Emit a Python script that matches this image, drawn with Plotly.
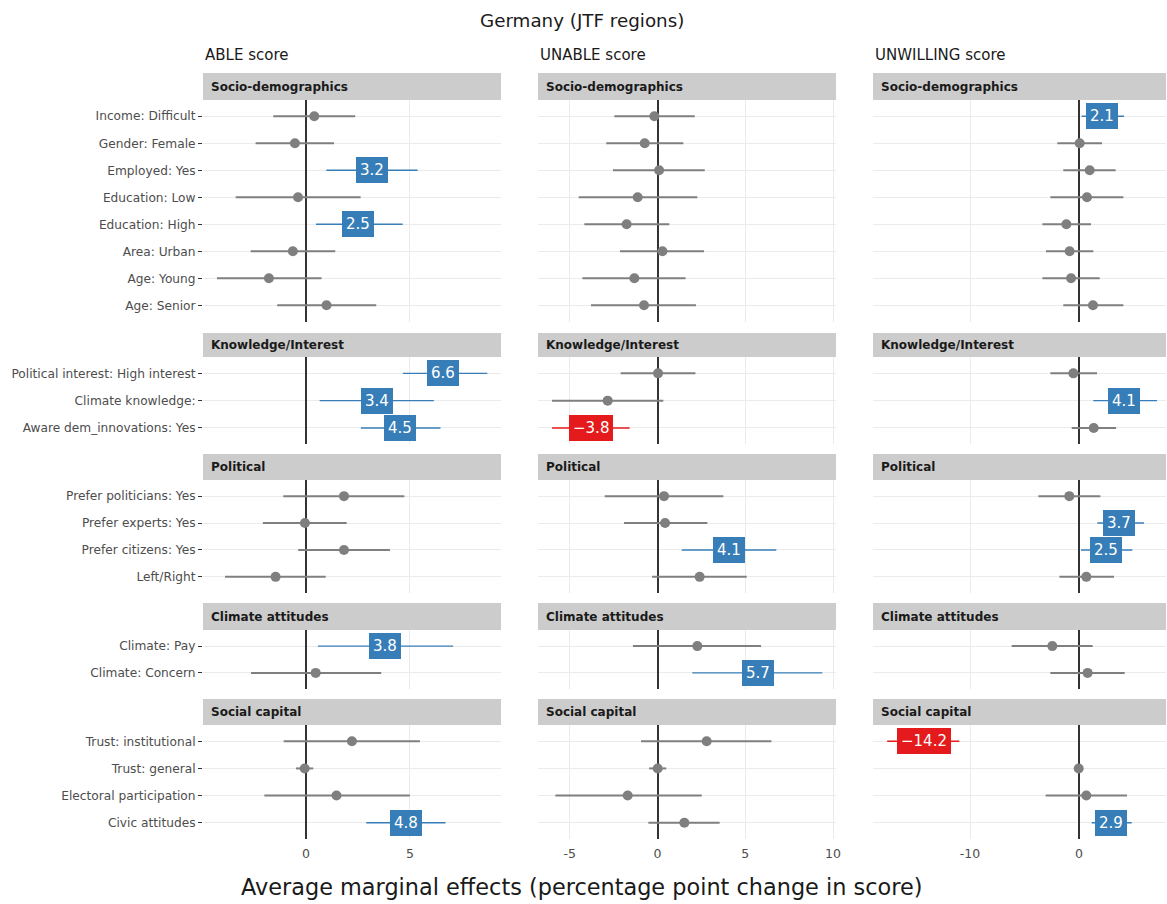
import plotly.graph_objects as go

# ---------------- data ----------------
score_titles = ["ABLE score", "UNABLE score", "UNWILLING score"]
groups = ["Socio-demographics", "Knowledge/Interest", "Political", "Climate attitudes", "Social capital"]

vars_socio = ["Income: Difficult", "Gender: Female", "Employed: Yes", "Education: Low",
              "Education: High", "Area: Urban", "Age: Young", "Age: Senior"]
vars_know = ["Political interest: High interest", "Climate knowledge:", "Aware dem_innovations: Yes"]
vars_pol = ["Prefer politicians: Yes", "Prefer experts: Yes", "Prefer citizens: Yes", "Left/Right"]
vars_clim = ["Climate: Pay", "Climate: Concern"]
vars_soc = ["Trust: institutional", "Trust: general", "Electoral participation", "Civic attitudes"]
group_vars = [vars_socio, vars_know, vars_pol, vars_clim, vars_soc]

able_est = [0.40, -0.53, 3.2, -0.38, 2.5, -0.63, -1.78, 0.99,
            6.6, 3.4, 4.5,
            1.83, -0.05, 1.83, -1.46,
            3.8, 0.47,
            2.21, -0.06, 1.47, 4.8]
able_lo = [-1.57, -2.42, 0.98, -3.38, 0.48, -2.66, -4.28, -1.38,
           4.66, 0.66, 2.64,
           -1.09, -2.07, -0.37, -3.89,
           0.58, -2.64,
           -1.07, -0.48, -2.0, 2.9]
able_hi = [2.37, 1.35, 5.37, 2.63, 4.65, 1.41, 0.75, 3.38,
           8.72, 6.15, 6.47,
           4.73, 1.96, 4.04, 0.95,
           7.08, 3.62,
           5.48, 0.35, 5.0, 6.71]

unable_est = [-0.18, -0.73, 0.09, -1.13, -1.76, 0.28, -1.32, -0.77,
              0.03, -2.84, -3.8,
              0.37, 0.43, 4.1, 2.4,
              2.27, 5.7,
              2.8, 0.01, -1.7, 1.53]
unable_lo = [-2.46, -2.92, -2.54, -4.49, -4.17, -2.14, -4.28, -3.79,
             -2.1, -6.01, -6.01,
             -3.01, -1.91, 1.38, -0.31,
             -1.4, 1.98,
             -0.94, -0.48, -5.82, -0.52]
unable_hi = [2.12, 1.47, 2.69, 2.27, 0.67, 2.65, 1.6, 2.19,
             2.16, 0.33, -1.59,
             3.75, 2.84, 6.77, 5.08,
             5.9, 9.39,
             6.49, 0.5, 2.52, 3.54]

unwilling_est = [2.1, 0.06, 0.98, 0.73, -1.16, -0.86, -0.73, 1.28,
                 -0.52, 4.1, 1.35,
                 -0.89, 3.7, 2.5, 0.67,
                 -2.45, 0.79,
                 -14.2, -0.03, 0.67, 2.9]
unwilling_lo = [0.24, -1.99, -1.44, -2.63, -3.36, -3.03, -3.36, -1.44,
                -2.63, 1.31, -0.67,
                -3.73, 1.68, 0.18, -1.8,
                -6.18, -2.63,
                -17.6, -0.2, -3.06, 1.16]
unwilling_hi = [4.13, 2.11, 3.36, 4.07, 1.1, 1.31, 1.9, 4.07,
                1.65, 7.16, 3.4,
                1.96, 5.96, 4.89, 3.21,
                1.25, 4.19,
                -10.98, 0.2, 4.4, 4.83]

scores = [(able_est, able_lo, able_hi),
          (unable_est, unable_lo, unable_hi),
          (unwilling_est, unwilling_lo, unwilling_hi)]

x_ranges = [[-4.95, 9.38], [-6.81, 10.17], [-18.9, 7.98]]
x_ticks = [[0, 5], [-5, 0, 5, 10], [-10, 0]]

# ---------------- layout geometry (pixels) ----------------
W, H = 1167, 904
col_px = [(203, 501), (538, 836), (873, 1166)]
strip_px = [(73, 100), (333, 357), (454, 480), (603, 630), (699, 725)]
panel_px = [(100, 321.5), (357, 444.3), (480, 593), (630, 689), (725, 839)]

FONT = "DejaVu Sans"
GREY = "#7f7f7f"
BLUE = "#377EB8"
RED = "#E41A1C"
TXT = "#4d4d4d"


def px_x(x):
    return x / W


def px_y(y):
    return 1 - y / H


fig = go.Figure()
layout = dict(
    width=W, height=H,
    margin=dict(l=0, r=0, t=0, b=0),
    paper_bgcolor="white", plot_bgcolor="white",
    showlegend=False,
    font=dict(family=FONT, color=TXT, size=12),
)
annotations = []
shapes = []

for r, gvars in enumerate(group_vars):
    start = sum(len(g) for g in group_vars[:r])
    n = len(gvars)
    for c, (est_all, lo_all, hi_all) in enumerate(scores):
        k = r * 3 + c + 1
        xa = "x" if k == 1 else f"x{k}"
        ya = "y" if k == 1 else f"y{k}"
        est = est_all[start:start + n]
        lo = lo_all[start:start + n]
        hi = hi_all[start:start + n]

        ns_y, ns_x, ns_p, ns_m = [], [], [], []
        for sign, color in ((1, BLUE), (-1, RED)):
            sy, sx, sp, sm = [], [], [], []
            for v, e, l, h in zip(gvars, est, lo, hi):
                sig = 1 if l > 0 else (-1 if h < 0 else 0)
                if sig == sign:
                    sy.append(v); sx.append(e); sp.append(h - e); sm.append(e - l)
                    txt = f"{abs(e):.1f}"
                    if e < 0:
                        txt = "\u2212" + txt
                    annotations.append(dict(
                        x=e, y=v, xref=xa, yref=ya, text=txt, showarrow=False,
                        font=dict(family=FONT, size=15, color="white"),
                        bgcolor=color, bordercolor=color, borderwidth=1, borderpad=3,
                        xanchor="center", yanchor="middle"))
            if sy:
                fig.add_trace(go.Scatter(
                    x=sx, y=sy, xaxis=xa, yaxis=ya, mode="markers",
                    marker=dict(size=2, opacity=0, color=color),
                    error_x=dict(type="data", symmetric=False, array=sp, arrayminus=sm,
                                 width=0, thickness=1.4, color=color),
                    hoverinfo="skip"))
        for v, e, l, h in zip(gvars, est, lo, hi):
            if l <= 0 <= h:
                ns_y.append(v); ns_x.append(e); ns_p.append(h - e); ns_m.append(e - l)
        if ns_y:
            fig.add_trace(go.Scatter(
                x=ns_x, y=ns_y, xaxis=xa, yaxis=ya, mode="markers",
                marker=dict(size=10, color=GREY),
                error_x=dict(type="data", symmetric=False, array=ns_p, arrayminus=ns_m,
                             width=0, thickness=2, color=GREY),
                hoverinfo="skip"))

        x0, x1 = col_px[c]
        ptop, pbot = panel_px[r]
        kx = "xaxis" if k == 1 else f"xaxis{k}"
        ky = "yaxis" if k == 1 else f"yaxis{k}"
        layout[kx] = dict(
            domain=[px_x(x0), px_x(x1)], anchor=ya, range=x_ranges[c],
            tickmode="array", tickvals=x_ticks[c], ticktext=[str(t) for t in x_ticks[c]],
            showgrid=True, gridcolor="#ebebeb", gridwidth=1,
            zeroline=True, zerolinecolor="#333333", zerolinewidth=1.6,
            showline=False, ticks="", showticklabels=(r == len(group_vars) - 1),
            ticklabelstandoff=5,
            tickfont=dict(family=FONT, size=12.5, color=TXT), automargin=False,
            fixedrange=True)
        layout[ky] = dict(
            domain=[px_y(pbot), px_y(ptop)], anchor=xa, type="category",
            categoryorder="array", categoryarray=gvars, range=[n - 0.4, -0.6],
            showgrid=True, gridcolor="#ebebeb", gridwidth=1, zeroline=False,
            showline=False, showticklabels=(c == 0),
            ticks="outside" if c == 0 else "", ticklen=4, tickwidth=1, tickcolor="#333333",
            tickfont=dict(family=FONT, size=12.2, color=TXT), automargin=False,
            fixedrange=True)

        # strip
        st, sb = strip_px[r]
        shapes.append(dict(type="rect", xref="paper", yref="paper",
                           x0=px_x(x0), x1=px_x(x1), y0=px_y(sb), y1=px_y(st),
                           fillcolor="#cccccc", line=dict(width=0), layer="below"))
        annotations.append(dict(
            x=px_x(x0 + 6), y=px_y((st + sb) / 2), xref="paper", yref="paper",
            text=f"<b>{groups[r]}</b>", showarrow=False, xanchor="left", yanchor="middle",
            font=dict(family=FONT, size=12, color="#1a1a1a")))

# column titles
for c, t in enumerate(score_titles):
    annotations.append(dict(
        x=px_x(col_px[c][0] + 0), y=px_y(55), xref="paper", yref="paper", text=t,
        showarrow=False, xanchor="left", yanchor="middle",
        font=dict(family=FONT, size=15, color="#1a1a1a")))

annotations.append(dict(
    x=px_x(582), y=px_y(20), xref="paper", yref="paper", text="Germany (JTF regions)",
    showarrow=False, xanchor="center", yanchor="middle",
    font=dict(family=FONT, size=18.3, color="#1a1a1a")))
annotations.append(dict(
    x=px_x(581), y=px_y(887), xref="paper", yref="paper",
    text="Average marginal effects (percentage point change in score)",
    showarrow=False, xanchor="center", yanchor="middle",
    font=dict(family=FONT, size=22.4, color="#1a1a1a")))

layout["annotations"] = annotations
layout["shapes"] = shapes
fig.update_layout(**layout)

fig.write_html("out.html", config={"displayModeBar": False},
               post_script="document.body.style.margin='0';")
